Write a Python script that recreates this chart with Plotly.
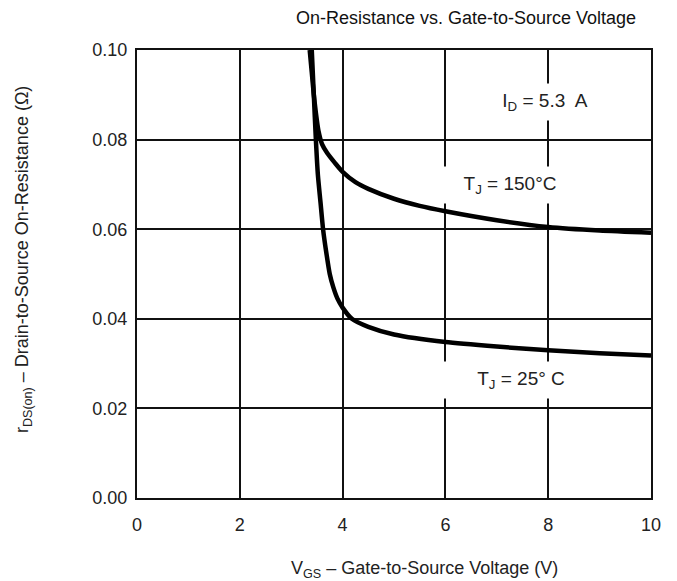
import plotly.graph_objects as go

# Data
vgs_150 = [3.36, 3.40, 3.44, 3.48, 3.53, 3.60, 3.70, 3.85, 4.0, 4.25, 4.5, 5.0, 5.5, 6.0, 7.0, 8.0, 9.0, 10.0]
rds_150 = [0.1000, 0.0950, 0.0900, 0.0860, 0.0820, 0.0790, 0.0770, 0.0748, 0.0728, 0.0705, 0.0690, 0.0668, 0.0652, 0.0640, 0.0620, 0.0605, 0.0597, 0.0592]

vgs_25 = [3.40, 3.44, 3.48, 3.52, 3.57, 3.62, 3.68, 3.75, 3.82, 3.90, 4.0, 4.18, 4.5, 5.0, 6.0, 7.0, 8.0, 9.0, 10.0]
rds_25 = [0.1000, 0.0900, 0.0800, 0.0720, 0.0660, 0.0600, 0.0550, 0.0500, 0.0470, 0.0445, 0.0425, 0.0400, 0.0382, 0.0365, 0.0348, 0.0338, 0.0330, 0.0323, 0.0318]

x_ticks = [0, 2, 4, 6, 8, 10]
x_tick_labels = ["0", "2", "4", "6", "8", "10"]
y_ticks = [0.00, 0.02, 0.04, 0.06, 0.08, 0.10]
y_tick_labels = ["0.00", "0.02", "0.04", "0.06", "0.08", "0.10"]

FONT = "Liberation Sans, Arial, sans-serif"
TXT = "#222222"

fig = go.Figure()
for xs, ys in [(vgs_150, rds_150), (vgs_25, rds_25)]:
    fig.add_trace(go.Scatter(
        x=xs, y=ys, mode="lines", line=dict(color="black", width=4.5, shape="spline", smoothing=0.6),
        showlegend=False, hoverinfo="skip"))

# page body has an 8px margin, so the figure is sized/placed to compensate
fig.update_layout(
    width=669, height=573,
    margin=dict(l=129, r=26, t=42, b=83),
    paper_bgcolor="white", plot_bgcolor="white",
    font=dict(family=FONT, color=TXT, size=18),
    title=dict(text="On-Resistance vs. Gate-to-Source Voltage", x=0.6846, xanchor="center",
               y=0.9825, yanchor="middle", font=dict(size=18, color="#111111", family=FONT)),
)

fig.update_xaxes(
    range=[0, 10], tickvals=x_ticks, ticktext=x_tick_labels,
    showgrid=True, gridcolor="#111111", gridwidth=1.5,
    showline=True, linecolor="#111111", linewidth=2, mirror=True,
    ticks="", ticklabelstandoff=9, zeroline=False,
    tickfont=dict(size=18),
)
fig.update_yaxes(
    range=[0, 0.10], tickvals=y_ticks, ticktext=y_tick_labels,
    showgrid=True, gridcolor="#111111", gridwidth=1.5,
    showline=True, linecolor="#111111", linewidth=2, mirror=True,
    ticks="", ticklabelstandoff=4, zeroline=False,
    tickfont=dict(size=18),
)

# axis titles as annotations for exact placement
fig.add_annotation(xref="paper", yref="paper", x=0.560, y=0, yshift=-71,
                   xanchor="center", yanchor="middle", showarrow=False,
                   text="V<sub>GS</sub> – Gate-to-Source Voltage (V)",
                   font=dict(size=18, color=TXT, family=FONT))
fig.add_annotation(xref="paper", yref="paper", x=0, xshift=-114, y=0.531,
                   xanchor="center", yanchor="middle", showarrow=False, textangle=-90,
                   text="r<sub>DS(on)</sub> – Drain-to-Source On-Resistance (Ω)",
                   font=dict(size=18, color=TXT, family=FONT))

annots = [
    (7.94, 0.0884, "I<sub>D</sub> = 5.3  A", 120),
    (7.26, 0.0699, "T<sub>J</sub> = 150°C", 140),
    (7.47, 0.0263, "T<sub>J</sub> = 25° C", 160),
]
for x, y, t, w in annots:
    fig.add_annotation(x=x, y=y, text=t, showarrow=False, bgcolor="white",
                       width=w, height=32, borderpad=2,
                       font=dict(size=19, color=TXT, family=FONT))

fig.write_html("out.html")
